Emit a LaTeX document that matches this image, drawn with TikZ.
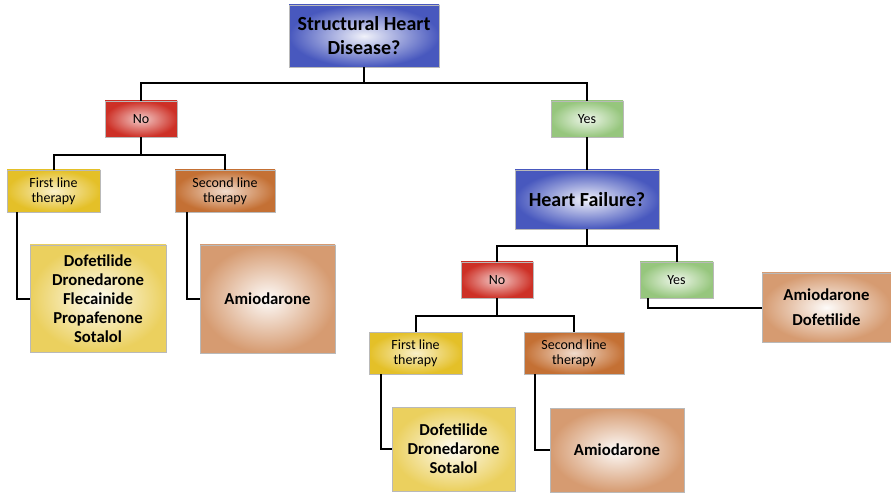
\documentclass[tikz,border=0pt]{standalone}
\usepackage{fontspec}
\setmainfont{Carlito}
\usepackage{xcolor}
\usepackage{tikz}

\definecolor{qblue}{RGB}{72,88,190}
\definecolor{nored}{RGB}{205,48,38}
\definecolor{yesgreen}{RGB}{150,198,125}
\definecolor{firstyel}{RGB}{228,192,40}
\definecolor{secorange}{RGB}{196,112,52}

\begin{document}
\begin{tikzpicture}[
      x=1pt, y=-1pt,
      box/.style={draw=gray!55, line width=0.6pt, align=center, inner sep=0pt},
      question/.style={box, inner color=white!92!qblue, outer color=qblue, font=\fontsize{20}{24}\selectfont\bfseries},
      nobox/.style={box, minimum width=72, minimum height=36, inner color=white!75!nored, outer color=nored, font=\fontsize{14}{15}\selectfont},
      yesbox/.style={box, minimum width=72, minimum height=36, inner color=white!85!yesgreen, outer color=yesgreen, font=\fontsize{14}{15}\selectfont},
      firstbox/.style={box, minimum width=93, minimum height=42, inner color=white!75!firstyel, outer color=firstyel, font=\fontsize{14}{15}\selectfont},
      secondbox/.style={box, minimum width=100, minimum height=42, inner color=white!75!secorange, outer color=secorange, font=\fontsize{14}{15}\selectfont},
      druglist/.style={box, inner color=white!95!firstyel, outer color=white!25!firstyel, font=\fontsize{16.7}{19}\selectfont\bfseries},
      amiobox/.style={box, inner color=white!97!secorange, outer color=white!30!secorange, font=\fontsize{16.7}{19}\selectfont\bfseries},
      link/.style={line width=2pt}
    ]
    \useasboundingbox (0,0) rectangle (891,494);

    % top question
    \node[question, minimum width=150, minimum height=62] (shd) at (364,36) {Structural Heart\\Disease?};
    \node[nobox] (noA) at (141,119) {No};
    \node[yesbox] (yesA) at (587,119) {Yes};

    % no structural heart disease
    \node[firstbox] (firstA) at (53.5,191) {First line\\therapy};
    \node[secondbox] (secondA) at (225,191) {Second line\\therapy};
    \node[druglist, minimum width=136, minimum height=107] (drugsA) at (98,298.5) {Dofetilide\\Dronedarone\\Flecainide\\Propafenone\\Sotalol};
    \node[amiobox, minimum width=135, minimum height=108] (amioA) at (267.5,299) {Amiodarone};

    % structural heart disease
    \node[question, minimum width=144, minimum height=59] (hf) at (587,199.5) {Heart Failure?};
    \node[nobox] (noB) at (497,280) {No};
    \node[yesbox, minimum width=73] (yesB) at (676.5,280) {Yes};
    \node[amiobox, minimum width=129, minimum height=69, font=\fontsize{16.7}{25}\selectfont\bfseries] (amioDof) at (826.5,307.5) {Amiodarone\\Dofetilide};
    \node[firstbox] (firstB) at (415.5,353) {First line\\therapy};
    \node[secondbox] (secondB) at (574,353) {Second line\\therapy};
    \node[druglist, minimum width=123, minimum height=84] (drugsB) at (453.5,449) {Dofetilide\\Dronedarone\\Sotalol};
    \node[amiobox, minimum width=134, minimum height=84] (amioB) at (617,450) {Amiodarone};

    \draw[link] (shd.south) -- ++(0,16) -| (noA.north);
    \draw[link] (shd.south) -- ++(0,16) -| (yesA.north);
    \draw[link] (noA.south) -- ++(0,18) -| (firstA.north);
    \draw[link] (noA.south) -- ++(0,18) -| (secondA.north);
    \draw[link] ([xshift=10]firstA.south west) |- (drugsA.west);
    \draw[link] ([xshift=12]secondA.south west) |- (amioA.west);
    \draw[link] (yesA.south) -- (hf.north);
    \draw[link] (hf.south) -- ++(0,17) -| (noB.north);
    \draw[link] (hf.south) -- ++(0,17) -| (yesB.north);
    \draw[link] ([xshift=8]yesB.south west) |- (amioDof.west);
    \draw[link] (noB.south) -- ++(0,18) -| (firstB.north);
    \draw[link] (noB.south) -- ++(0,18) -| (secondB.north);
    \draw[link] ([xshift=12]firstB.south west) |- (drugsB.west);
    \draw[link] ([xshift=11]secondB.south west) |- (amioB.west);
  \end{tikzpicture}
\end{document}
